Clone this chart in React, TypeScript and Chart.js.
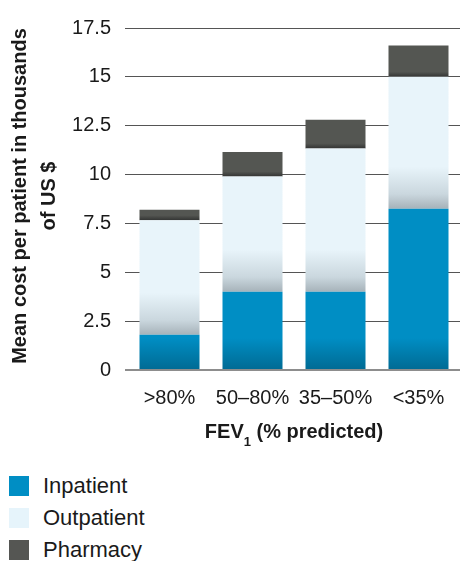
import React, { useEffect, useRef } from 'react';
import { Chart, registerables } from 'chart.js';

Chart.register(...registerables);

// Mean cost per patient (thousands of US $) by FEV1 band
const categories = ['>80%', '50–80%', '35–50%', '<35%'];
const inpatient = [1.8, 4.0, 4.0, 8.25];
const outpatient = [5.86, 5.9, 7.34, 6.75];
const pharmacy = [0.54, 1.26, 1.47, 1.6];
const yTicks = [0, 2.5, 5, 7.5, 10, 12.5, 15, 17.5];
const seriesNames = ['Inpatient', 'Outpatient', 'Pharmacy'];
const yTitleLines = ['Mean cost per patient in thousands', 'of US $'];
const xTitleParts = ['FEV', '1', ' (% predicted)'];

const FONT = '"Liberation Sans", Arial, Helvetica, sans-serif';
const TEXT = '#1a1a1a';
const swatches = ['#008ec4', '#e6f4fb', '#555653'];

type Stop = [number, string];

// Vertical gradient anchored at the bottom of each stacked segment
function segmentFill(stops: Stop[], span: number, solid: string) {
  return (ctx: any) => {
    const chart = ctx.chart;
    const y = chart.scales && chart.scales.y;
    if (!chart.chartArea || !y || ctx.type !== 'data') return solid;
    let below = 0;
    for (let d = 0; d < ctx.datasetIndex; d++) {
      below += Number(chart.data.datasets[d].data[ctx.dataIndex]) || 0;
    }
    const base = y.getPixelForValue(below);
    const g = chart.ctx.createLinearGradient(0, base, 0, base - span);
    stops.forEach(([o, c]) => g.addColorStop(o, c));
    return g;
  };
}

const axisTitles = {
  id: 'axisTitles',
  afterDraw(chart: any) {
    const { ctx, chartArea } = chart;
    ctx.save();
    ctx.fillStyle = TEXT;
    ctx.textBaseline = 'alphabetic';

    // rotated y-axis title, two lines
    ctx.font = `bold 20px ${FONT}`;
    ctx.textAlign = 'center';
    const cy = (chartArea.top + chartArea.bottom) / 2 - 3;
    const baselines = [26, 55];
    yTitleLines.forEach((line, k) => {
      ctx.save();
      ctx.translate(baselines[k], cy);
      ctx.rotate(-Math.PI / 2);
      ctx.fillText(line, 0, 0);
      ctx.restore();
    });

    // x-axis title with subscript
    ctx.textAlign = 'left';
    const big = `bold 20px ${FONT}`;
    const small = `bold 13px ${FONT}`;
    ctx.font = big;
    const w1 = ctx.measureText(xTitleParts[0]).width;
    const w3 = ctx.measureText(xTitleParts[2]).width;
    ctx.font = small;
    const w2 = ctx.measureText(xTitleParts[1]).width;
    const total = w1 + w2 + w3;
    let x = (chartArea.left + chartArea.right) / 2 - total / 2;
    const base = 437.5;
    ctx.font = big;
    ctx.fillText(xTitleParts[0], x, base);
    x += w1;
    ctx.font = small;
    ctx.fillText(xTitleParts[1], x, base + 8.5);
    x += w2;
    ctx.font = big;
    ctx.fillText(xTitleParts[2], x, base);
    ctx.restore();
  },
};

function CostChart() {
  const ref = useRef<HTMLCanvasElement | null>(null);

  useEffect(() => {
    if (!ref.current) return;
    const chart = new Chart(ref.current, {
      type: 'bar',
      data: {
        labels: categories,
        datasets: [
          {
            label: seriesNames[0],
            data: inpatient,
            backgroundColor: segmentFill(
              [[0, '#006a93'], [1, '#008ec4']],
              32,
              swatches[0]
            ),
          },
          {
            label: seriesNames[1],
            data: outpatient,
            backgroundColor: segmentFill(
              [[0, '#a6b2b9'], [0.35, '#cad7de'], [1, '#e8f4fa']],
              42,
              '#e8f4fa'
            ),
          },
          {
            label: seriesNames[2],
            data: pharmacy,
            backgroundColor: segmentFill(
              [[0, '#333433'], [1, '#545652']],
              5,
              swatches[2]
            ),
          },
        ],
      },
      options: {
        responsive: false,
        animation: false,
        devicePixelRatio: 1,
        layout: { padding: { top: 28, right: 2, left: 0, bottom: 0 } },
        datasets: {
          bar: {
            barPercentage: 60 / 83,
            categoryPercentage: 1,
            borderWidth: 0,
          },
        },
        plugins: {
          legend: { display: false },
          tooltip: { enabled: false },
        },
        scales: {
          x: {
            stacked: true,
            grid: { display: false, drawTicks: false },
            border: { display: false },
            ticks: {
              color: TEXT,
              padding: 16,
              font: { family: FONT, size: 20 },
              maxRotation: 0,
            },
            afterFit: (s: any) => {
              s.height = 80;
            },
          },
          y: {
            stacked: true,
            min: 0,
            max: 17.5,
            afterBuildTicks: (s: any) => {
              s.ticks = yTicks.map((v) => ({ value: v }));
            },
            grid: {
              color: (c: any) => (c.tick && c.tick.value === 0 ? '#8d8d8d' : '#555555'),
              lineWidth: (c: any) => (c.tick && c.tick.value === 0 ? 2 : 1),
              drawTicks: true,
              tickLength: 3,
            },
            border: { display: false },
            ticks: {
              color: TEXT,
              padding: 14,
              font: { family: FONT, size: 20 },
              callback: (v: any) => String(v),
            },
            afterFit: (s: any) => {
              s.width = 128;
            },
          },
        },
      },
      plugins: [axisTitles],
    });
    return () => chart.destroy();
  }, []);

  return <canvas ref={ref} width={462} height={450} style={{ display: 'block' }} />;
}

function Legend() {
  const centers = [486, 518, 550];
  return (
    <>
      {seriesNames.map((name, i) => (
        <div
          key={name}
          style={{
            position: 'absolute',
            left: 9,
            top: centers[i] - 15,
            height: 30,
            display: 'flex',
            alignItems: 'center',
          }}
        >
          <span
            style={{
              width: 20,
              height: 20,
              background: swatches[i],
              marginRight: 14,
              display: 'inline-block',
            }}
          />
          <span style={{ font: `22px ${FONT}`, color: TEXT }}>{name}</span>
        </div>
      ))}
    </>
  );
}

export default function App() {
  return (
    <div
      style={{
        position: 'fixed',
        left: 0,
        top: 0,
        width: 462,
        height: 561,
        background: '#ffffff',
        overflow: 'hidden',
      }}
    >
      <CostChart />
      <Legend />
    </div>
  );
}
